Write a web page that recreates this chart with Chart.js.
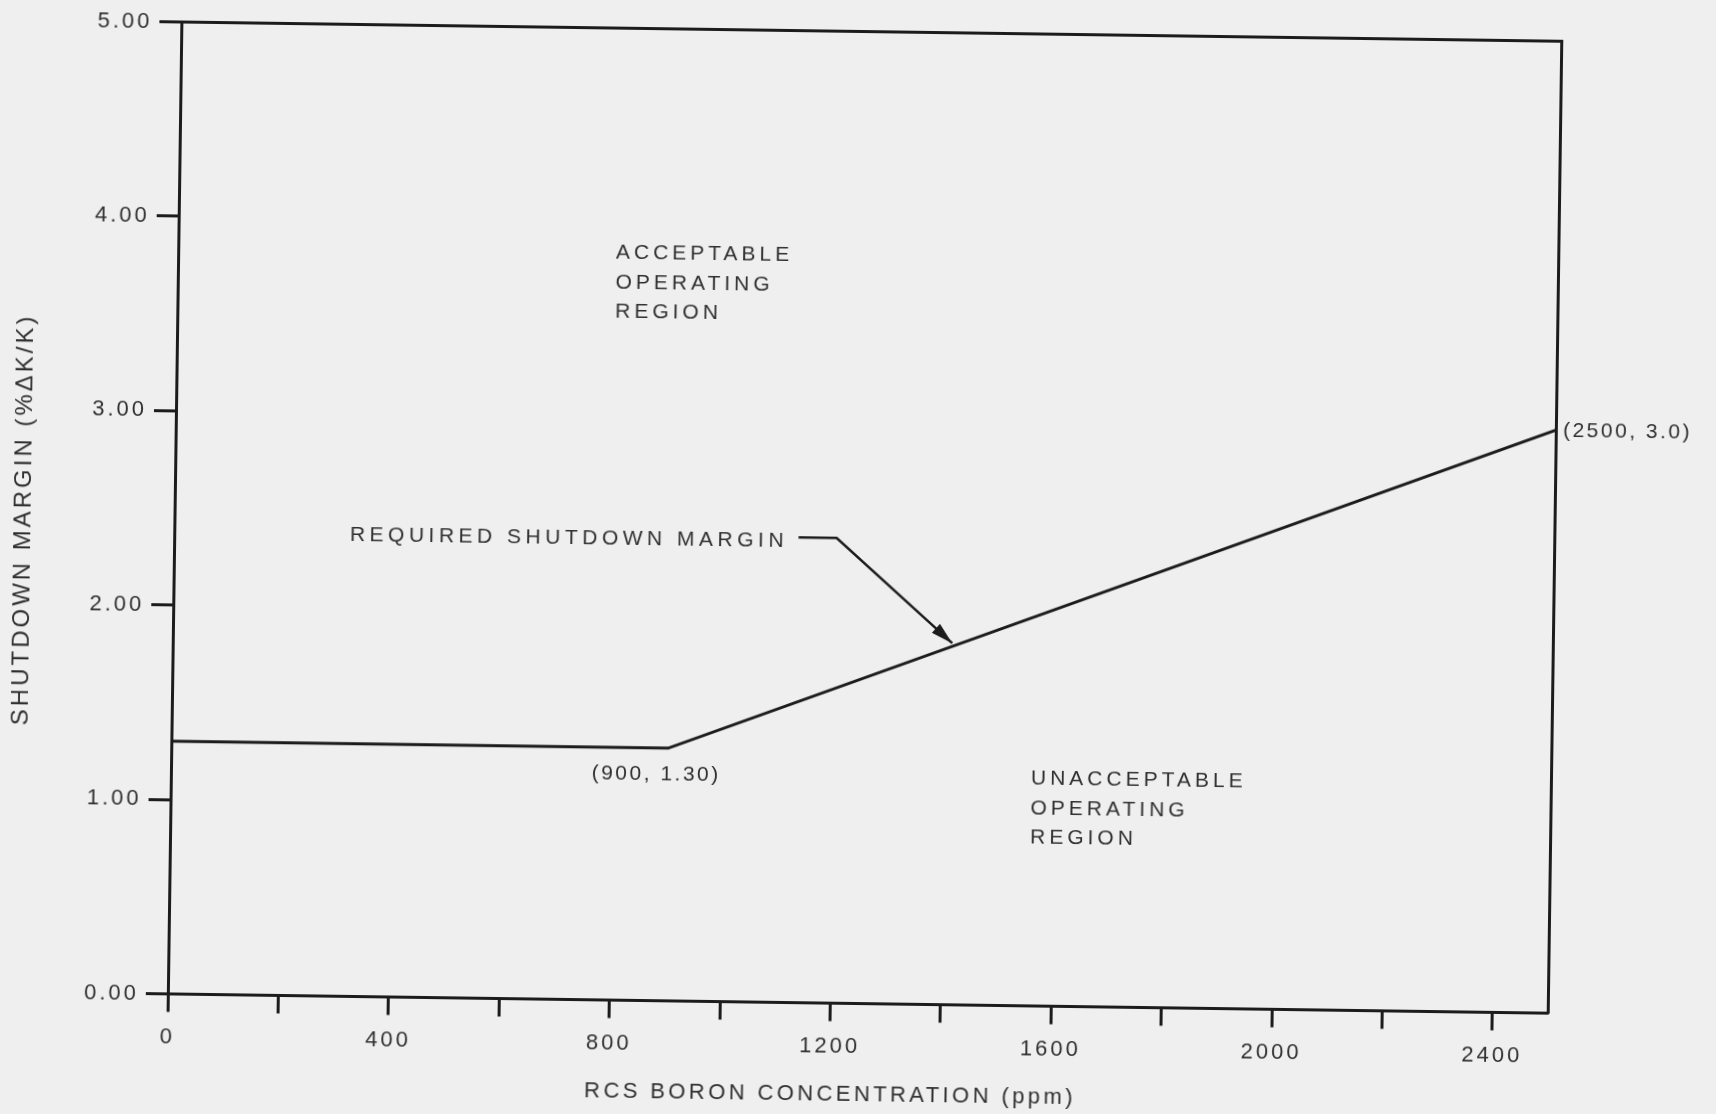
<!DOCTYPE html>
<html>
<head>
<meta charset="utf-8">
<script src="https://cdn.jsdelivr.net/npm/chart.js@4/dist/chart.umd.min.js"></script>
<style>
  html, body { margin: 0; padding: 0; background: #efefef; overflow: hidden; width: 1716px; height: 1114px; }
  #wrap { position: absolute; left: 0; top: 0; width: 1716px; height: 1114px; transform: rotate(0.8deg); transform-origin: 858px 557px; }
  canvas { display: block; }
</style>
</head>
<body>
<div id="wrap"><canvas id="chart" width="1716" height="1114"></canvas></div>
<script>
// ---- data ----
const boronPpm = [0, 900, 2500];              // RCS boron concentration (ppm)
const shutdownMargin = [1.30, 1.30, 3.00];    // required shutdown margin (%ΔK/K)

const xTickLabels = ['0', '400', '800', '1200', '1600', '2000', '2400'];
const yTickLabels = ['0.00', '1.00', '2.00', '3.00', '4.00', '5.00'];

const xAxisTitle = 'RCS BORON CONCENTRATION (ppm)';
const yAxisTitle = 'SHUTDOWN MARGIN (%ΔK/K)';

const acceptableLabel = ['ACCEPTABLE', 'OPERATING', 'REGION'];
const unacceptableLabel = ['UNACCEPTABLE', 'OPERATING', 'REGION'];
const curveLabel = ['REQUIRED SHUTDOWN MARGIN'];
const kneeLabel = ['(900, 1.30)'];
const endLabel = ['(2500, 3.0)'];

// ---- styling / placement (not data) ----
const FONT = '"Liberation Sans", Arial, Helvetica, sans-serif';
const INK = '#1c1c1c';
const TEXT = '#303030';

const notes = [
  { lines: acceptableLabel,   x: 793,  y: 3.843, align: 'left',   size: 21, spacing: 4,   gap: 29.5 },
  { lines: unacceptableLabel, x: 1558, y: 1.167, align: 'left',   size: 21, spacing: 4,   gap: 29.5 },
  { lines: curveLabel,        x: 1112, y: 2.375, align: 'right',  size: 21, spacing: 4.5, gap: 0 },
  { lines: kneeLabel,         x: 879,  y: 1.166, align: 'center', size: 21, spacing: 2.5, gap: 0 },
  { lines: endLabel,          x: 2513, y: 2.995, align: 'left',   size: 21, spacing: 2.5, gap: 0 }
];
const leader = { path: [[1131, 2.393], [1200, 2.393], [1412, 1.86]], head: 22, half: 6 };
// axis titles: anchored to data value along the axis, pixel offset away from the plot
const xTitlePlace = { value: 1202, offset: 91, size: 22, spacing: 3.4 };
const yTitlePlace = { value: 2.43, offset: 150.5, size: 24, spacing: 3 };

const spacingPlugin = {
  id: 'spacing',
  beforeUpdate(chart) { chart.ctx.letterSpacing = '3px'; },
  beforeDraw(chart) { chart.ctx.letterSpacing = '3px'; }
};

const notesPlugin = {
  id: 'notes',
  afterDatasetsDraw(chart) {
    const { ctx, chartArea } = chart;
    const xs = chart.scales.x, ys = chart.scales.y;
    ctx.save();
    ctx.fillStyle = TEXT;
    ctx.textBaseline = 'middle';
    notes.forEach(n => {
      ctx.font = n.size + 'px ' + FONT;
      ctx.letterSpacing = n.spacing + 'px';
      ctx.textAlign = n.align;
      const px = xs.getPixelForValue(n.x);
      const py = ys.getPixelForValue(n.y);
      n.lines.forEach((t, i) => ctx.fillText(t, px, py + i * n.gap));
    });

    // axis titles
    ctx.textAlign = 'center';
    ctx.font = xTitlePlace.size + 'px ' + FONT;
    ctx.letterSpacing = xTitlePlace.spacing + 'px';
    ctx.fillText(xAxisTitle, xs.getPixelForValue(xTitlePlace.value), chartArea.bottom + xTitlePlace.offset);
    ctx.save();
    ctx.translate(chartArea.left - yTitlePlace.offset, ys.getPixelForValue(yTitlePlace.value));
    ctx.rotate(-Math.PI / 2);
    ctx.font = yTitlePlace.size + 'px ' + FONT;
    ctx.letterSpacing = yTitlePlace.spacing + 'px';
    ctx.fillText(yAxisTitle, 0, 0);
    ctx.restore();

    // leader line with arrow
    const pts = leader.path.map(p => [xs.getPixelForValue(p[0]), ys.getPixelForValue(p[1])]);
    ctx.strokeStyle = INK;
    ctx.fillStyle = INK;
    ctx.lineWidth = 2.5;
    ctx.beginPath();
    ctx.moveTo(pts[0][0], pts[0][1]);
    for (let i = 1; i < pts.length; i++) ctx.lineTo(pts[i][0], pts[i][1]);
    ctx.stroke();
    const a = pts[pts.length - 2], b = pts[pts.length - 1];
    const ang = Math.atan2(b[1] - a[1], b[0] - a[0]);
    ctx.beginPath();
    ctx.moveTo(b[0], b[1]);
    ctx.lineTo(b[0] - leader.head * Math.cos(ang) + leader.half * Math.sin(ang),
               b[1] - leader.head * Math.sin(ang) - leader.half * Math.cos(ang));
    ctx.lineTo(b[0] - leader.head * Math.cos(ang) - leader.half * Math.sin(ang),
               b[1] - leader.head * Math.sin(ang) + leader.half * Math.cos(ang));
    ctx.closePath();
    ctx.fill();
    ctx.restore();
  }
};

const points = boronPpm.map((x, i) => ({ x: x, y: shutdownMargin[i] }));

new Chart(document.getElementById('chart'), {
  type: 'line',
  data: {
    datasets: [{
      label: 'Required shutdown margin',
      data: points,
      borderColor: INK,
      borderWidth: 3,
      pointRadius: 0,
      tension: 0,
      fill: false
    }]
  },
  options: {
    responsive: false,
    animation: false,
    devicePixelRatio: 1,
    layout: { padding: { left: 0, top: 31.5, right: 162, bottom: 0 } },
    plugins: { legend: { display: false }, tooltip: { enabled: false } },
    scales: {
      x: {
        type: 'linear', position: 'bottom', min: 0, max: 2500,
        afterFit(s) { s.height = 110.5; },
        afterBuildTicks(s) { const t = []; for (let v = 0; v <= 2400; v += 200) t.push({ value: v }); s.ticks = t; },
        ticks: {
          autoSkip: false, maxRotation: 0, padding: 12, color: TEXT,
          font: { family: FONT, size: 22 },
          callback: v => xTickLabels.includes(String(v)) ? String(v) : ''
        },
        grid: { drawOnChartArea: false, drawTicks: true, tickLength: 18, tickWidth: 3, tickColor: INK },
        border: { display: true, color: INK, width: 3 },
        title: { display: false, text: xAxisTitle }
      },
      y: {
        type: 'linear', position: 'left', min: 0, max: 5,
        afterFit(s) { s.width = 174; },
        ticks: {
          stepSize: 1, padding: 7, color: TEXT,
          font: { family: FONT, size: 22 },
          callback: (v) => yTickLabels[Math.round(v)]
        },
        grid: { drawOnChartArea: false, drawTicks: true, tickLength: 22, tickWidth: 3, tickColor: INK },
        border: { display: true, color: INK, width: 3 },
        title: { display: false, text: yAxisTitle }
      },
      xTop: {
        type: 'linear', position: 'top', min: 0, max: 2500,
        afterFit(s) { s.height = 0; },
        ticks: { display: false },
        grid: { drawOnChartArea: false, drawTicks: false },
        border: { display: true, color: INK, width: 3 }
      },
      yRight: {
        type: 'linear', position: 'right', min: 0, max: 5,
        afterFit(s) { s.width = 0; },
        ticks: { display: false },
        grid: { drawOnChartArea: false, drawTicks: false },
        border: { display: true, color: INK, width: 3 }
      }
    }
  },
  plugins: [spacingPlugin, notesPlugin]
});
</script>
</body>
</html>
